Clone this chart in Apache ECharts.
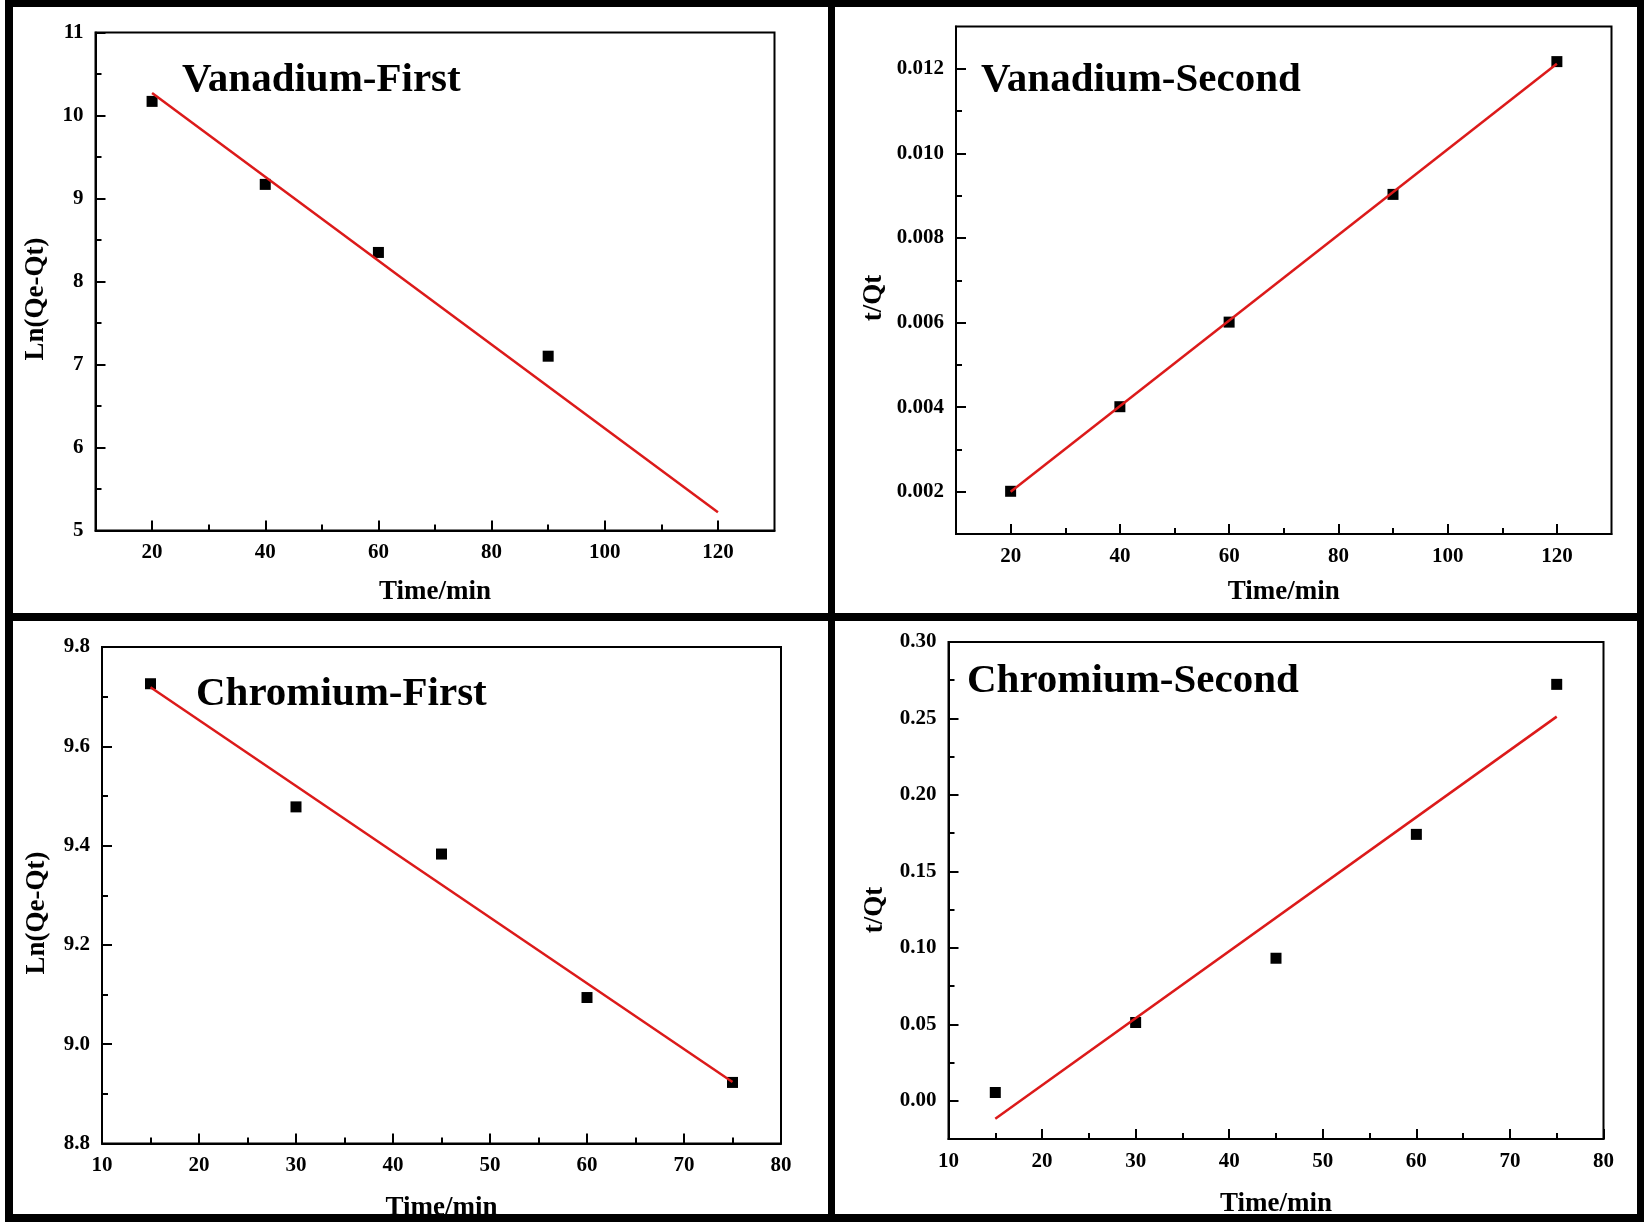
<!DOCTYPE html>
<html>
<head>
<meta charset="utf-8">
<script src="https://cdn.jsdelivr.net/npm/echarts@6/dist/echarts.min.js"></script>
<style>
html,body{margin:0;padding:0;background:#fff;}
#c{width:1647px;height:1228px;}
</style>
</head>
<body>
<div id="c"></div>
<script>
// ---- Data ----
var panelTitles = ['Vanadium-First', 'Vanadium-Second', 'Chromium-First', 'Chromium-Second'];
var yNames = ['Ln(Qe-Qt)', 't/Qt', 'Ln(Qe-Qt)', 't/Qt'];
var xName = 'Time/min';

// Vanadium first order
var vfTime = [20, 40, 60, 90];
var vfVal = [10.17, 9.17, 8.35, 7.10];
var vfFitX = [20, 120];
var vfFitY = [10.27, 5.22];

// Vanadium second order
var vsTime = [20, 40, 60, 90, 120];
var vsVal = [0.00201, 0.00401, 0.00601, 0.00903, 0.01217];
var vsFitX = [20, 120];
var vsFitY = [0.00200, 0.01212];

// Chromium first order
var cfTime = [15, 30, 45, 60, 75];
var cfVal = [9.726, 9.478, 9.383, 9.094, 8.923];
var cfFitX = [15, 75];
var cfFitY = [9.719, 8.924];

// Chromium second order
var csTime = [15, 30, 45, 60, 75];
var csVal = [0.0054, 0.0512, 0.0932, 0.1742, 0.2723];
var csFitX = [15, 75];
var csFitY = [-0.0118, 0.2512];

// Tick values
var vXMajor = [20, 40, 60, 80, 100, 120];
var vXMinor = [30, 50, 70, 90, 110];
var cXMajor = [10, 20, 30, 40, 50, 60, 70, 80];
var cXMinor = [15, 25, 35, 45, 55, 65, 75];
var vfYMajor = [5, 6, 7, 8, 9, 10, 11];
var vfYMinor = [5.5, 6.5, 7.5, 8.5, 9.5, 10.5];
var vsYMajor = [0.002, 0.004, 0.006, 0.008, 0.010, 0.012];
var vsYMinor = [0.003, 0.005, 0.007, 0.009, 0.011];
var cfYMajor = [8.8, 9.0, 9.2, 9.4, 9.6, 9.8];
var cfYMinor = [8.9, 9.1, 9.3, 9.5, 9.7];
var csYMajor = [0.00, 0.05, 0.10, 0.15, 0.20, 0.25, 0.30];
var csYMinor = [0.025, 0.075, 0.125, 0.175, 0.225, 0.275];

// ---- Layout ----
var FONT = '"Liberation Serif", "Times New Roman", serif';
var grids = [
  {left: 95.5, top: 32.5, width: 679, height: 498},
  {left: 956, top: 26.5, width: 655.5, height: 507.5},
  {left: 102, top: 647, width: 679, height: 496.5},
  {left: 948.5, top: 642, width: 655, height: 497}
];
var xRanges = [[10, 130], [10, 130], [10, 80], [10, 80]];
var yRanges = [[5, 11], [0.001, 0.013], [8.8, 9.8], [-0.025, 0.30]];
var xMaj = [vXMajor, vXMajor, cXMajor, cXMajor];
var xMin = [vXMinor, vXMinor, cXMinor, cXMinor];
var yMaj = [vfYMajor, vsYMajor, cfYMajor, csYMajor];
var yMin = [vfYMinor, vsYMinor, cfYMinor, csYMinor];
var yFmt = [
  function (v) { return String(Math.round(v)); },
  function (v) { return v.toFixed(3); },
  function (v) { return v.toFixed(1); },
  function (v) { return v.toFixed(2); }
];
var xNameGaps = [48, 45, 51, 52];
var pts = [[vfTime, vfVal], [vsTime, vsVal], [cfTime, cfVal], [csTime, csVal]];
var fits = [[vfFitX, vfFitY], [vsFitX, vsFitY], [cfFitX, cfFitY], [csFitX, csFitY]];

function zip(a, b) { return a.map(function (v, i) { return [v, b[i]]; }); }

var labelStyle = {fontFamily: FONT, fontWeight: 'bold', fontSize: 21, color: '#000'};

var option = {
  backgroundColor: '#fff',
  animation: false,
  grid: [], xAxis: [], yAxis: [], series: [], graphic: []
};

for (var i = 0; i < 4; i++) {
  option.grid.push({
    left: grids[i].left, top: grids[i].top, width: grids[i].width, height: grids[i].height,
    show: true, borderColor: '#000', borderWidth: 2, backgroundColor: 'transparent'
  });
  // main x axis
  option.xAxis.push({
    type: 'value', gridIndex: i, min: xRanges[i][0], max: xRanges[i][1], position: 'bottom',
    name: xName, nameLocation: 'middle', nameGap: xNameGaps[i],
    nameTextStyle: {fontFamily: FONT, fontWeight: 'bold', fontSize: 27, color: '#000'},
    axisLine: {show: true, onZero: false, lineStyle: {color: '#000', width: 2}},
    axisTick: {show: true, inside: true, length: 10, lineStyle: {color: '#000', width: 2}, customValues: xMaj[i]},
    axisLabel: Object.assign({show: true, margin: 12, customValues: xMaj[i], formatter: function (v) { return String(Math.round(v)); }}, labelStyle),
    splitLine: {show: false}
  });
  // minor x ticks
  option.xAxis.push({
    type: 'value', gridIndex: i, min: xRanges[i][0], max: xRanges[i][1], position: 'bottom',
    axisLine: {show: false, onZero: false},
    axisTick: {show: true, inside: true, length: 6, lineStyle: {color: '#000', width: 2}, customValues: xMin[i]},
    axisLabel: {show: false},
    splitLine: {show: false}
  });
  // main y axis
  option.yAxis.push({
    type: 'value', gridIndex: i, min: yRanges[i][0], max: yRanges[i][1], position: 'left',
    axisLine: {show: true, onZero: false, lineStyle: {color: '#000', width: 2}},
    axisTick: {show: true, inside: true, length: 10, lineStyle: {color: '#000', width: 2}, customValues: yMaj[i]},
    axisLabel: Object.assign({show: true, margin: 12, customValues: yMaj[i], formatter: yFmt[i]}, labelStyle),
    splitLine: {show: false}
  });
  // minor y ticks
  option.yAxis.push({
    type: 'value', gridIndex: i, min: yRanges[i][0], max: yRanges[i][1], position: 'left',
    axisLine: {show: false, onZero: false},
    axisTick: {show: true, inside: true, length: 6, lineStyle: {color: '#000', width: 2}, customValues: yMin[i]},
    axisLabel: {show: false},
    splitLine: {show: false}
  });
  option.series.push({
    type: 'scatter', xAxisIndex: i * 2, yAxisIndex: i * 2,
    data: zip(pts[i][0], pts[i][1]),
    symbol: 'rect', symbolSize: 11,
    itemStyle: {color: '#000', opacity: 1}, z: 2
  });
  option.series.push({
    type: 'line', xAxisIndex: i * 2, yAxisIndex: i * 2,
    data: zip(fits[i][0], fits[i][1]),
    showSymbol: false, symbol: 'none',
    lineStyle: {color: '#dc1a1a', width: 2.5}, z: 3
  });
}

// Panel titles (inside plots)
var titlePos = [[182, 80], [981, 80], [196, 694], [967, 681]];
// Y axis names (rotated)
var yNamePos = [[36, 299], [874, 298], [37, 913], [875, 910]];

for (var k = 0; k < 4; k++) {
  option.graphic.push({
    type: 'text', x: titlePos[k][0], y: titlePos[k][1], z: 10,
    style: {text: panelTitles[k], font: 'bold 41px ' + FONT, fill: '#000', align: 'left', verticalAlign: 'middle'}
  });
  option.graphic.push({
    type: 'text', x: yNamePos[k][0], y: yNamePos[k][1], rotation: Math.PI / 2, z: 10,
    style: {text: yNames[k], font: 'bold 27px ' + FONT, fill: '#000', align: 'center', verticalAlign: 'middle'}
  });
}

// Frame and dividers
var frames = [
  [5, 0, 1639, 7], [5, 1214, 1639, 8], [5, 0, 8, 1222], [1637, 0, 7, 1222],
  [5, 613, 1639, 8], [828, 0, 7, 1222]
];
frames.forEach(function (f) {
  option.graphic.push({
    type: 'rect', z: 100,
    shape: {x: f[0], y: f[1], width: f[2], height: f[3]},
    style: {fill: '#000'}
  });
});

var chart = echarts.init(document.getElementById('c'));
chart.setOption(option);
</script>
</body>
</html>
